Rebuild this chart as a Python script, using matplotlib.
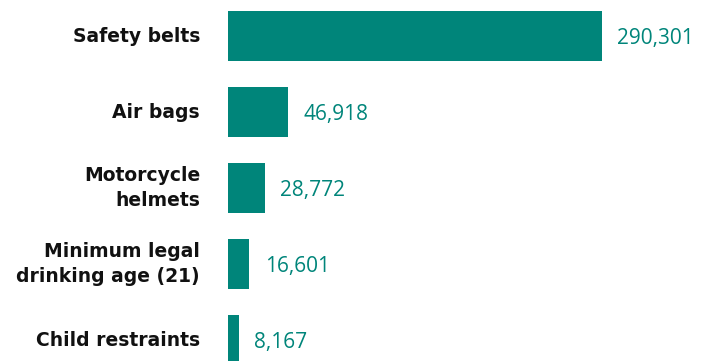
import matplotlib.pyplot as plt
from matplotlib.transforms import blended_transform_factory

# lives saved by each measure
categories = ["Safety belts", "Air bags", "Motorcycle\nhelmets",
              "Minimum legal\ndrinking age (21)", "Child restraints"]
values = [290301, 46918, 28772, 16601, 8167]
value_labels = ["290,301", "46,918", "28,772", "16,601", "8,167"]

teal = "#00857A"

fig = plt.figure(figsize=(7.04, 3.61), dpi=100)
ax = fig.add_axes([228 / 704, 0, 374 / 704, 1])

pos = list(range(len(categories)))
ax.barh(pos, values, height=50 / 76, color=teal)
ax.set_xlim(0, max(values))
ax.set_ylim(len(categories) - 1 + 21 / 76, -36 / 76)

for y, v, lab in zip(pos, values, value_labels):
    ax.annotate(lab, (v, y), xytext=(11, -1.5), textcoords="offset points",
                va="center", ha="left", fontsize=15, color=teal,
                family="Open Sans", annotation_clip=False)

# category names right-aligned in the left margin
trans = blended_transform_factory(fig.transFigure, ax.transData)
for y, cat in zip(pos, categories):
    ax.text(200 / 704, y, cat, transform=trans, ha="right", va="center",
            fontsize=13.5, fontweight="bold", family="DejaVu Sans",
            color="#111111", linespacing=1.4, multialignment="right")

ax.axis("off")
fig.savefig("out.png", dpi=100)
